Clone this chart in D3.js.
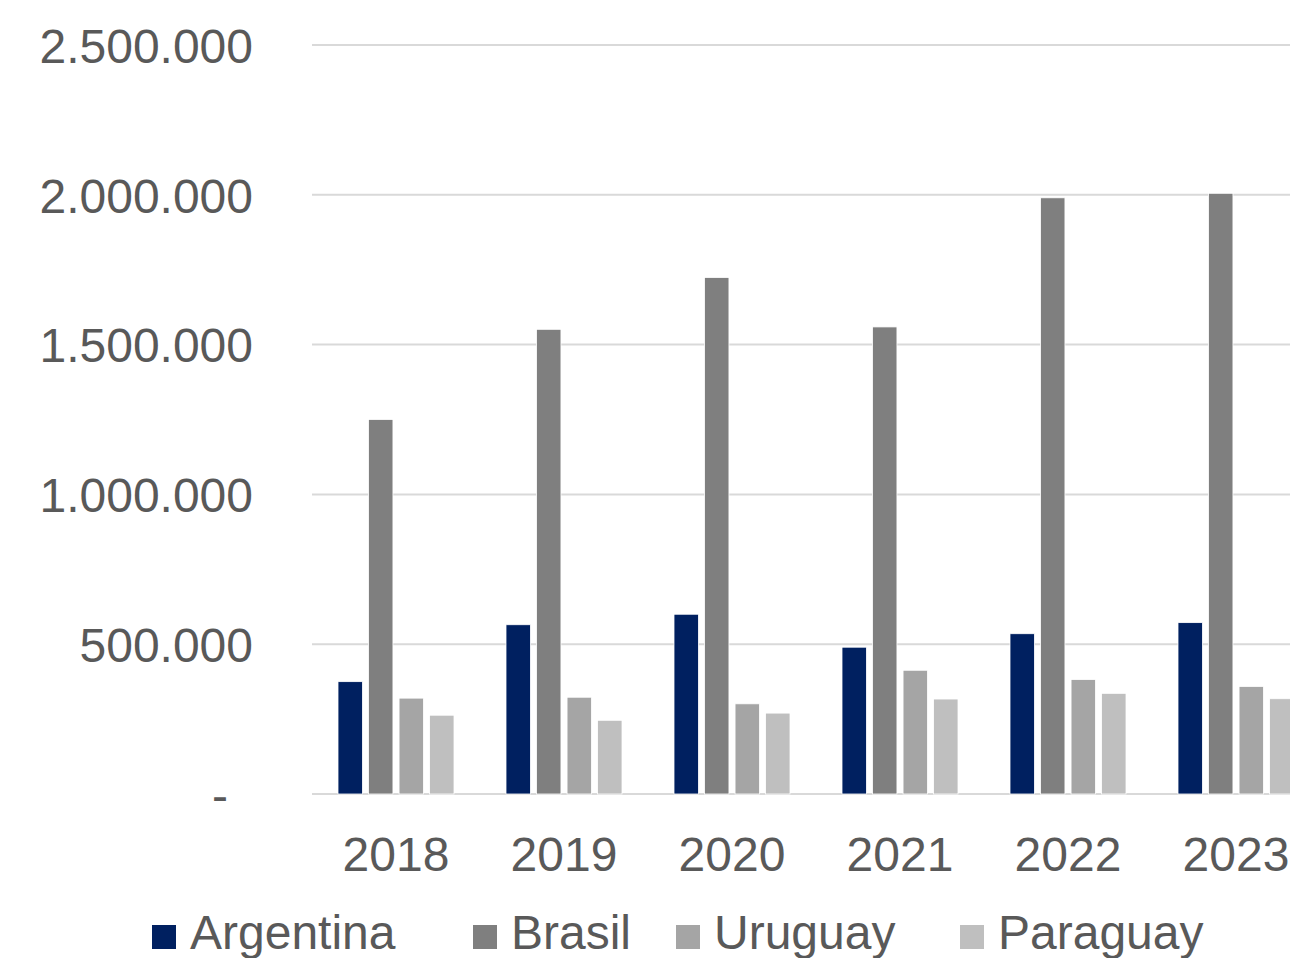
<!DOCTYPE html>
<html>
<head>
<meta charset="utf-8">
<script src="https://cdn.jsdelivr.net/npm/d3@7"></script>
<style>
  html, body { margin: 0; padding: 0; background: #fff; overflow: hidden; }
</style>
</head>
<body>
<div class="graphic_container"></div>
<script>
// data
const years = ['2018', '2019', '2020', '2021', '2022', '2023'];
const countries = ['Argentina', 'Brasil', 'Uruguay', 'Paraguay'];

const argentina = [375000, 565000, 600000, 490000, 535000, 572000];
const brasil = [1250000, 1551000, 1724000, 1559000, 1990000, 2005000];
const uruguay = [320000, 323000, 301000, 413000, 382000, 359000];
const paraguay = [263000, 246000, 270000, 317000, 336000, 318000];

const yTicks = [0, 500000, 1000000, 1500000, 2000000, 2500000];

const seriesValues = [argentina, brasil, uruguay, paraguay];
const colors = ['#002060', '#7f7f7f', '#a5a5a5', '#bfbfbf'];

const width = 1290;
const height = 958;
const textColor = '#595959';
const font = `'Liberation Sans', Arial, sans-serif`;

const svg = d3.select('.graphic_container')
  .append('svg')
  .attr('width', width)
  .attr('height', height)
  .style('font-family', font);

// scales
const x = d3.scaleBand()
  .domain(years)
  .range([312, 1320])
  .paddingInner(0)
  .paddingOuter(0);

const xInner = d3.scaleBand()
  .domain(countries)
  .range([26, 142])
  .paddingInner(0.2)
  .paddingOuter(0);

const y = d3.scaleLinear()
  .domain([0, 2500000])
  .range([794, 45]);

const fmt = v => v === 0 ? '-' : d3.format(',')(v).replace(/,/g, '.');

//gridlines
svg.append('g')
  .selectAll('line')
  .data(yTicks)
  .join('line')
  .attr('x1', 312)
  .attr('x2', width)
  .attr('y1', d => y(d))
  .attr('y2', d => y(d))
  .style('stroke', '#d9d9d9')
  .style('stroke-width', 2);

// y axis labels
const yAxis = svg.append('g')
  .attr('transform', 'translate(253,0)')
  .call(d3.axisLeft(y).tickValues(yTicks).tickFormat(fmt).tickSize(0).tickPadding(0));

yAxis.select('.domain').remove();
yAxis.selectAll('text')
  .style('font-family', font)
  .style('font-size', '48px')
  .style('fill', textColor)
  .attr('dy', '0.36em')
  .attr('dx', d => d === 0 ? -25 : 0);

// bars
const groups = svg.append('g')
  .selectAll('g')
  .data(years)
  .join('g')
  .attr('transform', d => `translate(${x(d)},0)`);

groups.selectAll('rect')
  .data((d, i) => countries.map((c, j) => ({country: c, value: seriesValues[j][i], color: colors[j]})))
  .join('rect')
  .attr('x', d => xInner(d.country))
  .attr('y', d => y(d.value))
  .attr('width', xInner.bandwidth())
  .attr('height', d => y(0) - y(d.value))
  .style('fill', d => d.color)
  .style('stroke', '#ffffff')
  .style('stroke-width', 0.8);

// x axis labels
const xAxis = svg.append('g')
  .attr('transform', 'translate(0,794)')
  .call(d3.axisBottom(x).tickSize(0).tickPadding(0));

xAxis.select('.domain').remove();
xAxis.selectAll('text')
  .style('font-family', font)
  .style('font-size', '48px')
  .style('fill', textColor)
  .attr('dy', null)
  .attr('y', 77);

// legend
const legendX = [152, 473, 676, 960];

const legend = svg.append('g')
  .selectAll('g')
  .data(countries)
  .join('g')
  .attr('transform', (d, i) => `translate(${legendX[i]},0)`);

legend.append('rect')
  .attr('x', 0)
  .attr('y', 925)
  .attr('width', 24)
  .attr('height', 24)
  .style('fill', (d, i) => colors[i]);

legend.append('text')
  .attr('x', 38)
  .attr('y', 949)
  .text(d => d)
  .style('font-size', '48px')
  .style('fill', textColor);
</script>
</body>
</html>
